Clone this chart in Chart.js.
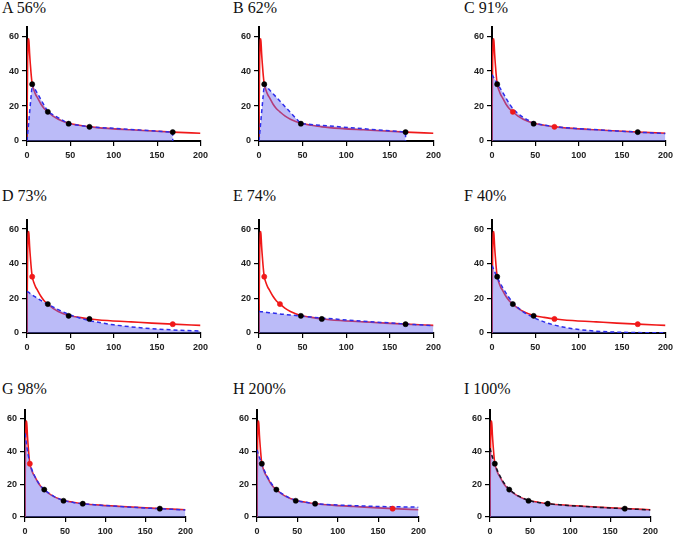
<!DOCTYPE html>
<html>
<head>
<meta charset="utf-8">
<script src="https://cdn.jsdelivr.net/npm/chart.js@4.4.1/dist/chart.umd.min.js"></script>
<style>
  html, body { margin: 0; padding: 0; background: #fff; overflow: hidden; }
  body { width: 677px; height: 534px; position: relative; }
  .ttl { position: absolute; font-family: "Liberation Serif", "Times New Roman", serif; font-size: 16px; line-height: 16px; color: #111; white-space: nowrap; }
  canvas { position: absolute; }
</style>
</head>
<body>
<script>
// observed concentrations
const obsTime = [6, 24, 48, 72, 168];
const obsConc = [32.5, 16.7, 9.9, 8.1, 5.1];

// true (red) curve
const curveTime = [0, 0.3, 0.7, 1, 1.5, 2, 2.5, 3, 4, 5, 6, 8, 10, 12, 16, 20, 24, 30, 36, 42, 48, 60, 72, 96, 120, 144, 168, 200];
const curveConc = [0, 25, 45, 52, 58, 58.5, 55, 50, 43, 37, 32.5, 29, 26.5, 24.8, 21.2, 18.5, 16.7, 14.2, 12.4, 11.1, 10.1, 9.0, 8.1, 7.1, 6.4, 5.7, 5.1, 4.4];

const panelNames = ['A 56%', 'B 62%', 'C 91%', 'D 73%', 'E 74%', 'F 40%', 'G 98%', 'H 200%', 'I 100%'];

// 1 = used (black), 2 = left out (red), 0 = not shown
const markA = [1, 1, 1, 1, 1];
const markB = [1, 0, 1, 0, 1];
const markC = [1, 2, 1, 2, 1];
const markD = [2, 1, 1, 1, 2];
const markE = [2, 2, 1, 1, 1];
const markF = [1, 1, 1, 2, 2];
const markG = [2, 1, 1, 1, 1];
const markH = [1, 1, 1, 1, 2];
const markI = [1, 1, 1, 1, 1];

// trapezoid panels
const trapTimeA = [0, 6, 24, 48, 72, 168, 168];
const trapConcA = [0, 32.5, 16.7, 9.9, 8.1, 5.1, 0];
const trapTimeB = [0, 6, 48, 168, 168];
const trapConcB = [0, 32.5, 9.9, 5.1, 0];

// fitted (blue dashed) curves
const fitTime = [0, 2, 4, 6, 9, 12, 18, 24, 36, 48, 60, 72, 86, 100, 125, 150, 175, 200];
const fitC = [38, 36.2, 34.5, 32.9, 30.5, 28.2, 22.9, 18.6, 13.5, 10.6, 9.1, 8.3, 7.6, 7.1, 6.3, 5.6, 4.9, 4.3];
const fitD = [24, 23.4, 22.7, 22.0, 21.0, 20.0, 18.2, 16.6, 13.5, 10.8, 8.8, 7.2, 5.8, 4.7, 3.3, 2.3, 1.6, 1.1];
const fitE = [12.4, 12.3, 12.2, 12.1, 11.9, 11.7, 11.4, 11.0, 10.4, 9.8, 9.2, 8.6, 8.1, 7.5, 6.6, 5.8, 5.0, 4.2];
const fitF = [39, 36.6, 34.3, 32.2, 29.2, 26.5, 21.6, 17.6, 12.2, 9.0, 6.4, 4.6, 3.1, 2.0, 0.9, 0.4, 0.2, 0.1];
const fitG = [51, 44, 37.8, 33, 28.3, 25, 20, 16.8, 12.6, 10.2, 8.9, 8.1, 7.5, 7.0, 6.2, 5.5, 4.9, 4.3];
const fitH = [41, 37.8, 35, 32.4, 28.5, 25.3, 20.3, 16.9, 12.7, 10.3, 9.0, 8.2, 7.7, 7.3, 6.8, 6.4, 6.2, 6.0];
const fitI = [42, 38.2, 35.1, 32.5, 28.6, 25.4, 20.4, 16.9, 12.7, 10.2, 8.9, 8.1, 7.5, 7.0, 6.2, 5.5, 4.9, 4.3];

const xTicks = [0, 50, 100, 150, 200];
const yTicks = [0, 20, 40, 60];

// plot area boxes
const rowsY = [[23, 141], [216, 333], [406, 517]];
const colsX = [[[27, 204], [259, 437], [492, 669]], [[27, 204], [259, 437], [492, 669]], [[25, 189], [257, 422], [490, 654]]];
const titleTop = [0, 188, 381];
const titleLeft = [2, 233, 464];

const YW = 26, XH = 24, PT = 4, PR = 8;

const zip = (xs, ys) => xs.map((x, i) => ({ x: x, y: ys[i] }));
const pick = (mark, v) => obsTime.map((t, i) => ({ x: t, y: obsConc[i], m: mark[i] })).filter(p => p.m === v);

const blue = 'rgb(45,45,235)';
const panels = [
  { mark: markA, line: zip(trapTimeA, trapConcA), smooth: false, dash: blue },
  { mark: markB, line: zip(trapTimeB, trapConcB), smooth: false, dash: blue },
  { mark: markC, line: zip(fitTime, fitC), smooth: true, dash: blue },
  { mark: markD, line: zip(fitTime, fitD), smooth: true, dash: blue },
  { mark: markE, line: zip(fitTime, fitE), smooth: true, dash: blue },
  { mark: markF, line: zip(fitTime, fitF), smooth: true, dash: blue },
  { mark: markG, line: zip(fitTime, fitG), smooth: true, dash: blue },
  { mark: markH, line: zip(fitTime, fitH), smooth: true, dash: blue },
  { mark: markI, line: zip(fitTime, fitI), smooth: true, dash: 'rgb(20,20,40)' }
];

const tickFont = { family: '"Liberation Sans", Arial, sans-serif', size: 9, weight: 'bold' };

panels.forEach((p, k) => {
  const r = Math.floor(k / 3), c = k % 3;
  const [x0, x1] = colsX[r][c];
  const [y0, y1] = rowsY[r];

  const ttl = document.createElement('div');
  ttl.className = 'ttl';
  ttl.textContent = panelNames[k];
  ttl.style.left = titleLeft[c] + 'px';
  ttl.style.top = titleTop[r] + 'px';
  document.body.appendChild(ttl);

  const w = (x1 - x0) + YW + PR, h = (y1 - y0) + PT + XH;
  const wrap = document.createElement('div');
  wrap.style.position = 'absolute';
  wrap.style.left = (x0 - YW) + 'px';
  wrap.style.top = (y0 - PT) + 'px';
  wrap.style.width = w + 'px';
  wrap.style.height = h + 'px';
  const cv = document.createElement('canvas');
  cv.style.left = '0px';
  cv.style.top = '0px';
  cv.style.width = w + 'px';
  cv.style.height = h + 'px';
  wrap.appendChild(cv);
  document.body.appendChild(wrap);

  new Chart(cv, {
    type: 'line',
    data: {
      datasets: [
        {
          data: zip(curveTime, curveConc),
          borderColor: 'rgb(240,25,25)',
          borderWidth: 1.6,
          pointRadius: 0,
          fill: false,
          cubicInterpolationMode: 'monotone',
          order: 4
        },
        {
          data: p.line,
          borderColor: p.dash,
          borderWidth: 1.5,
          borderDash: [4, 3],
          backgroundColor: 'rgba(105,105,240,0.45)',
          pointRadius: 0,
          fill: 'origin',
          tension: 0,
          cubicInterpolationMode: p.smooth ? 'monotone' : 'default',
          order: 3
        },
        {
          data: pick(p.mark, 2),
          showLine: false,
          pointRadius: 2.6,
          pointBorderWidth: 0.5,
          pointBackgroundColor: 'rgb(240,25,25)',
          pointBorderColor: 'rgb(240,25,25)',
          order: 1
        },
        {
          data: pick(p.mark, 1),
          showLine: false,
          pointRadius: 2.6,
          pointBorderWidth: 0.5,
          pointBackgroundColor: '#000',
          pointBorderColor: '#000',
          order: 0
        }
      ]
    },
    options: {
      responsive: false,
      animation: false,
      devicePixelRatio: 1,
      layout: { padding: { top: PT, right: PR, left: 0, bottom: 0 } },
      plugins: { legend: { display: false }, tooltip: { enabled: false } },
      scales: {
        x: {
          type: 'linear',
          min: 0,
          max: 200,
          afterBuildTicks: (ax) => { ax.ticks = xTicks.map(v => ({ value: v })); },
          afterFit: (ax) => { ax.height = XH; },
          grid: { drawOnChartArea: false, drawTicks: true, tickLength: 5, color: '#000', lineWidth: 1.2 },
          border: { color: '#000', width: 2 },
          ticks: { font: tickFont, color: '#222', padding: 4, maxRotation: 0 }
        },
        y: {
          min: 0,
          max: 65,
          afterBuildTicks: (ax) => { ax.ticks = yTicks.map(v => ({ value: v })); },
          afterFit: (ax) => { ax.width = YW; },
          grid: { drawOnChartArea: false, drawTicks: true, tickLength: 5, color: '#000', lineWidth: 1.2 },
          border: { color: '#000', width: 2 },
          ticks: { font: tickFont, color: '#222', padding: 3 }
        }
      }
    }
  });
});
</script>
</body>
</html>
